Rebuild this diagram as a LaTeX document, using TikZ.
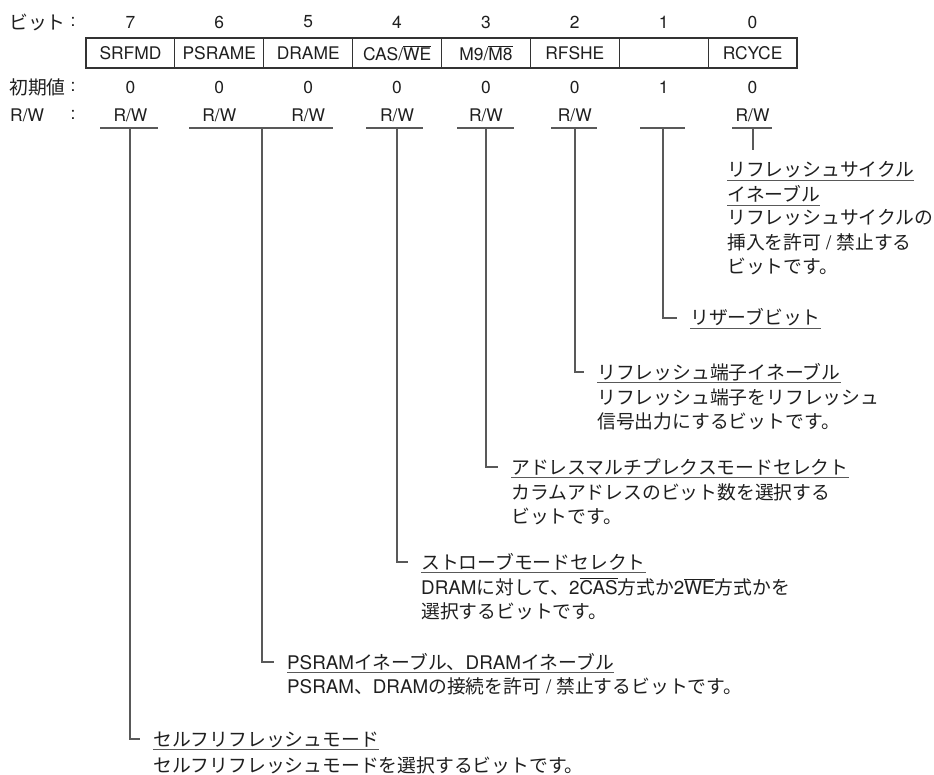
\documentclass[tikz,border=0pt]{standalone}
\usepackage{fontspec}
\setmainfont{Noto Sans CJK JP}
\newfontfamily\lat{TeX Gyre Heros}
\usetikzlibrary{positioning}
\newcommand{\ovl}[1]{$\overline{\hbox{#1}}$}
\newcommand{\sep}{{\lat\hspace{5pt}/\hspace{5pt}}}

\tikzset{
  jp/.style={font=\fontsize{18.8}{24.3}\selectfont, inner sep=0pt, text=black!88},
  hd/.style={font=\lat\fontsize{17.4}{20}\selectfont, inner sep=0pt, text=black!88},
  title/.style={jp, anchor=west, text height=16.5pt, text depth=2.5pt},
  body/.style={jp, anchor=base west, align=left},
  box/.style={draw=black!80, line width=1.1pt},
  uline/.style={draw=black!65, line width=1.1pt},
  lead/.style={draw=black!65, line width=1.1pt, shorten >=13pt},
}

\begin{document}
\begin{tikzpicture}[x=1pt, y=-1pt]
  \useasboundingbox[fill=white] (0,0) rectangle (934,775);

  % Row labels
  \node[jp, anchor=west] (lbit) at (9,22) {ビット};
  \node[jp, anchor=west] (linit) at (9,87) {初期値};
  \node[hd, anchor=west] (lrw) at (10,115) {R/W};
  \foreach \y/\n in {22/cbit, 87/cinit, 115/crw}
    \node[hd] (\n) at (73,\y) {:};

  % Register box
  \draw[box] (86,38) rectangle (797,68);
  \foreach \i in {1,...,7}
    \draw[box] (86+88.875*\i,38) -- (86+88.875*\i,68);

  % Bit numbers and initial values
  \foreach \b/\v in {7/0,6/0,5/0,4/0,3/0,2/0,1/1,0/0} {
    \pgfmathsetmacro{\cx}{130.44+88.875*(7-\b)}
    \node[hd] (n\b) at (\cx,22) {\b};
    \node[hd] (v\b) at (\cx,87) {\v};
  }

  % Field names
  \node[hd] (f7) at (n7 |- 0,53) {SRFMD};
  \node[hd] (f6) at (n6 |- 0,53) {PSRAME};
  \node[hd] (f5) at (n5 |- 0,53) {DRAME};
  \node[hd] (f4) at (n4 |- 0,53) {CAS/\ovl{WE}};
  \node[hd] (f3) at (n3 |- 0,53) {M9/\ovl{M8}};
  \node[hd] (f2) at (n2 |- 0,53) {RFSHE};
  \node[hd] (f0) at (n0 |- 0,53) {RCYCE};

  % R/W
  \foreach \b in {7,6,5,4,3,2,0}
    \node[hd] (rw\b) at (n\b |- 0,115) {R/W};

  % Underlines below R/W
  \coordinate (u7) at (130,128);
  \coordinate (u65) at (262,128);
  \coordinate (u4) at (397,128);
  \coordinate (u3) at (486,128);
  \coordinate (u2) at (575,128);
  \coordinate (u1) at (663,128);
  \coordinate (u0) at (753,128);
  \draw[uline] (100,128) -- (158,128);
  \draw[uline] (189,128) -- (333,128);
  \draw[uline] (366,128) -- (423,128);
  \draw[uline] (457,128) -- (514,128);
  \draw[uline] (551,128) -- (597,128);
  \draw[uline] (640,128) -- (685,128);
  \draw[uline] (732,128) -- (772,128);

  % Descriptions (body base = last line, so shift by the extra lines)
  \node[title] (t0a) at (727,170) {リフレッシュサイクル};
  \node[title] (t0b) at (727,195) {イネーブル};
  \node[body] (d0) at ([yshift=-71.6pt]t0b.base west) {リフレッシュサイクルの\\挿入を許可\sep 禁止する\\ビットです。};

  \node[title] (t1) at (690,318) {リザーブビット};

  \node[title] (t2) at (597,372) {リフレッシュ端子イネーブル};
  \node[body] (d2) at ([yshift=-49.3pt]t2.base west) {リフレッシュ端子をリフレッシュ\\信号出力にするビットです。};

  \node[title] (t3) at (511,467) {アドレスマルチプレクスモードセレクト};
  \node[body] (d3) at ([yshift=-49.3pt]t3.base west) {カラムアドレスのビット数を選択する\\ビットです。};

  \node[title] (t4) at (421,562) {ストローブモードセレクト};
  \node[body] (d4) at ([yshift=-49.3pt]t4.base west) {{\lat DRAM}に対して、{\lat 2\ovl{CAS}}方式か{\lat 2\ovl{WE}}方式かを\\選択するビットです。};

  \node[title] (t65) at (287,662) {{\lat PSRAM}イネーブル、{\lat DRAM}イネーブル};
  \node[body] (d65) at ([yshift=-24pt]t65.base west) {{\lat PSRAM}、{\lat DRAM}の接続を許可\sep 禁止するビットです。};

  \node[title] (t7) at (153,739) {セルフリフレッシュモード};
  \node[body] (d7) at ([yshift=-26pt]t7.base west) {セルフリフレッシュモードを選択するビットです。};

  % Title underlines
  \foreach \t in {t0a,t0b,t1,t2,t3,t4,t65,t7}
    \draw[uline] ([yshift=-0.5pt]\t.south west) -- ([yshift=-0.5pt]\t.south east);

  % Leaders
  \draw[lead, shorten >=10.5pt] (u0) -- (u0 |- t0a.north);
  \draw[lead] (u1) |- (t1.west);
  \draw[lead] (u2) |- (t2.west);
  \draw[lead] (u3) |- (t3.west);
  \draw[lead] (u4) |- (t4.west);
  \draw[lead] (u65) |- (t65.west);
  \draw[lead] (u7) |- (t7.west);
\end{tikzpicture}
\end{document}
